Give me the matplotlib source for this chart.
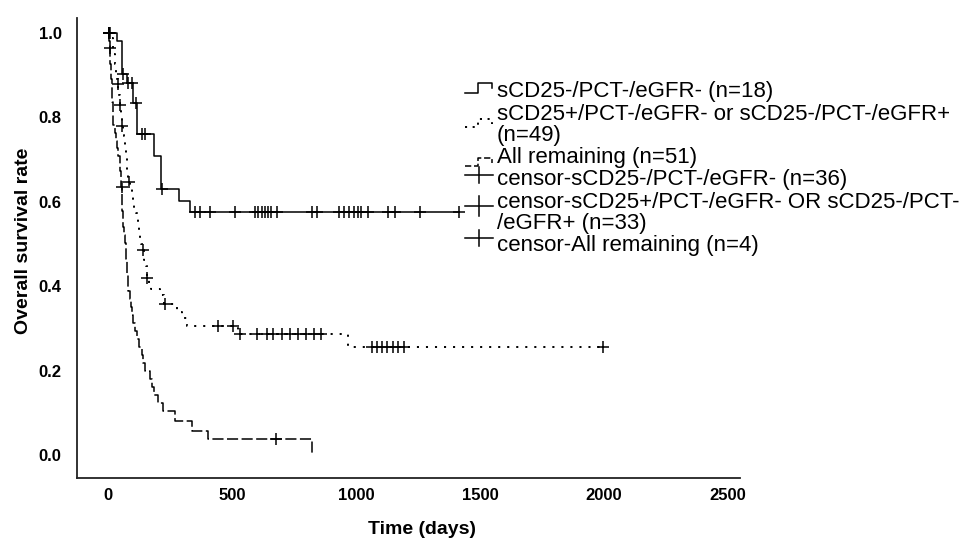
import numpy as np
import matplotlib
matplotlib.use('Agg')
import matplotlib.pyplot as plt
from matplotlib.lines import Line2D

plt.rcParams['font.family'] = ['Liberation Sans', 'DejaVu Sans']
plt.rcParams['lines.scale_dashes'] = False

# ---------------- data ----------------
# group 1: sCD25-/PCT-/eGFR-
solid_t = [0, 35, 55, 75, 102, 118, 185, 214, 288, 331]
solid_s = [1.0, 0.981, 0.904, 0.882, 0.833, 0.761, 0.708, 0.630, 0.602, 0.575]
solid_end = 1417
solid_censor = [3, 6, 62, 82, 95, 113, 136, 149, 216, 351, 371, 411, 512, 593,
                606, 620, 633, 646, 659, 680, 821, 842, 933, 953, 973, 990,
                1009, 1020, 1050, 1130, 1157, 1258, 1417]

# group 2: sCD25+/PCT-/eGFR- or sCD25-/PCT-/eGFR+
dot_t = [0, 12, 20, 24, 28, 31, 34, 37, 39, 42, 45, 48, 50, 52, 55, 60, 65,
         69, 71, 73, 75, 77, 80, 82, 88, 95, 101, 106, 111, 117, 121, 125,
         129, 135, 140, 147, 152, 157, 165, 175, 210, 224, 280, 300, 317,
         525, 968]
dot_s = [1.0, 0.988, 0.963, 0.951, 0.927, 0.915, 0.902, 0.890, 0.878, 0.866,
         0.854, 0.829, 0.817, 0.805, 0.780, 0.768, 0.756, 0.732, 0.719, 0.707,
         0.683, 0.671, 0.659, 0.646, 0.634, 0.622, 0.598, 0.585, 0.573, 0.561,
         0.548, 0.524, 0.511, 0.499, 0.486, 0.461, 0.447, 0.420, 0.406, 0.393,
         0.380, 0.358, 0.339, 0.325, 0.306, 0.287, 0.255]
dot_end = 1997
dot_censor = [5, 10, 40, 49, 56, 83, 143, 158, 230, 445, 505, 532, 600, 640,
              665, 700, 735, 765, 800, 830, 860, 1065, 1085, 1105, 1125, 1149,
              1169, 1194, 1997]

# group 3: All remaining
dash_t = [0, 3, 8, 9, 10, 12, 13, 15, 16, 18, 19, 20, 21, 28, 33, 37, 40, 48,
          50, 52, 54, 56, 57, 58, 59, 60, 63, 69, 71, 73, 75, 77, 79, 81, 89,
          93, 97, 101, 109, 117, 125, 137, 141, 149, 169, 177, 186, 202, 222,
          270, 337, 404, 821]
dash_s = [1.0, 0.982, 0.964, 0.945, 0.927, 0.909, 0.891, 0.873, 0.855, 0.836,
          0.818, 0.800, 0.782, 0.764, 0.745, 0.727, 0.709, 0.691, 0.673, 0.655,
          0.636, 0.617, 0.598, 0.579, 0.560, 0.541, 0.522, 0.503, 0.484, 0.465,
          0.446, 0.427, 0.408, 0.389, 0.370, 0.351, 0.332, 0.313, 0.294, 0.275,
          0.256, 0.237, 0.218, 0.199, 0.180, 0.161, 0.142, 0.123, 0.104, 0.080,
          0.058, 0.038, 0.0]
dash_end = 821
dash_censor = [2, 8.5, 55, 677]

x_ticks = [0, 500, 1000, 1500, 2000, 2500]
y_ticks = [0.0, 0.2, 0.4, 0.6, 0.8, 1.0]
y_tick_labels = ['0.0', '0.2', '0.4', '0.6', '0.8', '1.0']

legend_rows = [
    ['sCD25-/PCT-/eGFR- (n=18)'],
    ['sCD25+/PCT-/eGFR- or sCD25-/PCT-/eGFR+', '(n=49)'],
    ['All remaining (n=51)'],
    ['censor-sCD25-/PCT-/eGFR- (n=36)'],
    ['censor-sCD25+/PCT-/eGFR- OR sCD25-/PCT-', '/eGFR+ (n=33)'],
    ['censor-All remaining (n=4)'],
]

# ---------------- figure ----------------
W, H = 970, 541
fig = plt.figure(figsize=(W / 100, H / 100), dpi=100)
ax = fig.add_axes([77 / W, 1 - 478 / H, (740 - 77) / W, (478 - 18) / H])
ax.set_xlim(-125, 2548)
ax.set_ylim(-0.0545, (455 - 18) / 422)

STY_SOLID = '-'
STY_DOT = (0, (1.5, 5.0))
STY_DASH = (0, (8.0, 2.5))


def surv_at(t_arr, s_arr, times):
    idx = np.searchsorted(np.asarray(t_arr, float), np.asarray(times, float), side='right') - 1
    return np.asarray(s_arr)[idx]


def draw_group(t, s, end, cens, ls, lw):
    xs = list(t) + [end]
    ys = list(s) + [s[-1]]
    ax.step(xs, ys, where='post', color='black', lw=lw, linestyle=ls)
    ax.plot(cens, surv_at(t, s, cens), linestyle='none', marker='+',
            ms=8.5, mew=1.1, color='black')


draw_group(solid_t, solid_s, solid_end, solid_censor, STY_SOLID, 1.1)
draw_group(dot_t, dot_s, dot_end, dot_censor, STY_DOT, 1.4)
draw_group(dash_t, dash_s, dash_end, dash_censor, STY_DASH, 1.1)

for sp in ['top', 'right']:
    ax.spines[sp].set_visible(False)
for sp in ['left', 'bottom']:
    ax.spines[sp].set_linewidth(1.3)
    ax.spines[sp].set_color('#222222')

ax.set_xticks(x_ticks)
ax.set_xticklabels([str(v) for v in x_ticks], fontsize=12, fontweight='bold')
ax.set_yticks(y_ticks)
ax.set_yticklabels(y_tick_labels, fontsize=12, fontweight='bold')
ax.tick_params(axis='y', length=0, pad=11)
ax.tick_params(axis='x', length=0, pad=7)

fig.text(422 / W, 1 - 530 / H, 'Time (days)', ha='center', va='center',
         fontsize=14, fontweight='bold')
fig.text(24 / W, 1 - 241 / H, 'Overall survival rate', ha='center', va='center',
         rotation=90, fontsize=14, fontweight='bold')

# ---------------- legend (drawn manually) ----------------
def px(xs, ys):
    return [x / W for x in xs], [1 - y / H for y in ys]


def add_line(xs, ys, ls='-', lw=1.1):
    fx, fy = px(xs, ys)
    fig.add_artist(Line2D(fx, fy, transform=fig.transFigure, color='black',
                          lw=lw, linestyle=ls))


# step icons
add_line([465, 478, 478, 492, 492], [93, 93, 83, 83, 88], STY_SOLID, 1.1)
add_line([465, 478, 478, 492, 492], [127, 127, 119, 119, 124], (0, (1.5, 4.0)), 1.4)
add_line([465, 478, 478, 492, 492], [166, 166, 158, 158, 163], (0, (4.5, 2.0)), 1.1)
# censor icons
for cy, h in [(175, 8), (206, 10), (238, 8)]:
    add_line([465, 493], [cy, cy])
    add_line([479, 479], [cy - h, cy + h])

text_y = [[92], [114, 135], [157], [180], [202, 223], [245]]
for lines, ys in zip(legend_rows, text_y):
    for line, y in zip(lines, ys):
        fig.text(497 / W, 1 - y / H, line, ha='left', va='center', fontsize=16)

fig.savefig('out.png', dpi=100, facecolor='white')
